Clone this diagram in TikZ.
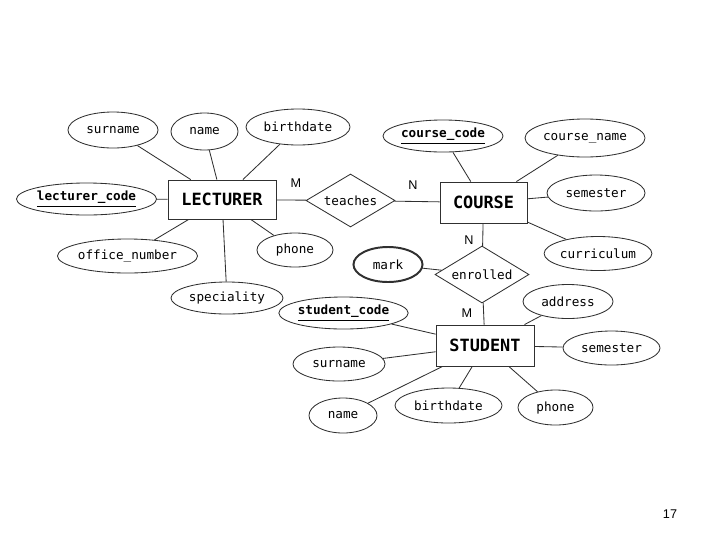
\documentclass[tikz,border=0pt]{standalone}
\usepackage{fontspec}
\setmainfont{Liberation Sans}
\setmonofont{DejaVu Sans Mono}
\usetikzlibrary{shapes.geometric}
\definecolor{cline}{HTML}{303030}
\tikzset{
  every picture/.style={line width=0.6pt},
  entity/.style={draw=cline, rectangle, minimum width=#1, minimum height=1.025cm, inner sep=0pt, font=\ttfamily\bfseries\fontsize{12}{14}\selectfont},
  relation/.style={draw=cline, diamond, aspect=1.7, inner sep=0pt, font=\ttfamily\fontsize{9}{11}\selectfont},
  attr/.style={draw=cline, ellipse, minimum width=#1, minimum height=0.85cm, inner sep=0pt, font=\ttfamily\fontsize{9}{11}\selectfont},
  keyattr/.style={attr=#1, font=\ttfamily\bfseries\fontsize{9}{11}\selectfont},
  card/.style={font=\fontsize{9}{11}\selectfont},
  link/.style={draw=cline, line width=0.6pt},
}
\newcommand{\keyname}[1]{\underline{#1}}

\begin{document}
\begin{tikzpicture}[x=0.025cm, y=-0.025cm]
  \useasboundingbox (0,0) rectangle (720,540);
  % entities and relationships
  \node[entity=2.7cm, minimum height=0.975cm] (lecturer) at (222,199.5) {LECTURER};
  \node[entity=2.175cm] (course) at (483.5,202.5) {COURSE};
  \node[entity=2.45cm] (student) at (485,345.5) {STUDENT};
  \node[relation, minimum width=2.225cm, minimum height=1.325cm] (teaches) at (350.5,200.5) {teaches};
  \node[relation, minimum width=2.35cm, minimum height=1.425cm] (enrolled) at (482,274.5) {enrolled};
  \node[attr=1.725cm, minimum height=0.875cm, line width=1.4pt] (mark) at (388,264.5) {mark};

  % lecturer attributes
  \node[attr=2.25cm, minimum height=0.9cm] (lsurname) at (113,130) {surname};
  \node[attr=1.675cm, minimum height=0.925cm] (lname) at (204.5,131.5) {name};
  \node[attr=2.6cm, minimum height=0.9cm] (lbirth) at (298,127) {birthdate};
  \node[keyattr=3.325cm, minimum height=0.8cm] (lcode) at (86.5,199) {\keyname{lecturer\_code}};
  \node[attr=3.375cm] (loffice) at (127.5,256) {office\_number};
  \node[attr=1.9cm] (lphone) at (295,250) {phone};
  \node[attr=2.8cm, minimum height=0.8cm] (lspec) at (227,298) {speciality};

  % course attributes
  \node[keyattr=3.0cm, minimum height=0.8cm] (ccode) at (443,136) {\keyname{course\_code}};
  \node[attr=3.0cm, minimum height=0.95cm] (cname) at (585,138) {course\_name};
  \node[attr=2.45cm, minimum height=0.9cm] (csem) at (596,193) {semester};
  \node[attr=2.6cm] (ccurr) at (598,253.5) {curriculum};

  % student attributes
  \node[keyattr=3.175cm, minimum height=0.8cm] (scode) at (343.5,313) {\keyname{student\_code}};
  \node[attr=2.25cm] (saddr) at (568,301.5) {address};
  \node[attr=2.425cm] (ssem) at (611.5,348) {semester};
  \node[attr=2.3cm] (ssurname) at (339,364) {surname};
  \node[attr=1.7cm, minimum height=0.875cm] (sname) at (343,415.5) {name};
  \node[attr=2.675cm, minimum height=0.875cm] (sbirth) at (448.5,405.5) {birthdate};
  \node[attr=1.875cm, minimum height=0.875cm] (sphone) at (555.5,407.5) {phone};

  % cardinalities
  \node[card] (m1) at (296,183) {M};
  \node[card] (n1) at (413,185) {N};
  \node[card] (n2) at (469,240) {N};
  \node[card] (m2) at (467,313) {M};
  \node[card] (pagenum) at (670,514) {17};

  % connectors
  \draw[link] (lecturer) -- (teaches) -- (course);
  \draw[link] (course) -- (enrolled) -- (student);
  \draw[link] (mark) -- (enrolled);
  \foreach \a in {lsurname, lname, lbirth, lcode, loffice, lphone, lspec}
    \draw[link] (\a) -- (lecturer);
  \foreach \a in {ccode, cname, csem, ccurr}
    \draw[link] (\a) -- (course);
  \foreach \a in {scode, saddr, ssem, ssurname, sname, sbirth, sphone}
    \draw[link] (\a) -- (student);
\end{tikzpicture}
\end{document}
